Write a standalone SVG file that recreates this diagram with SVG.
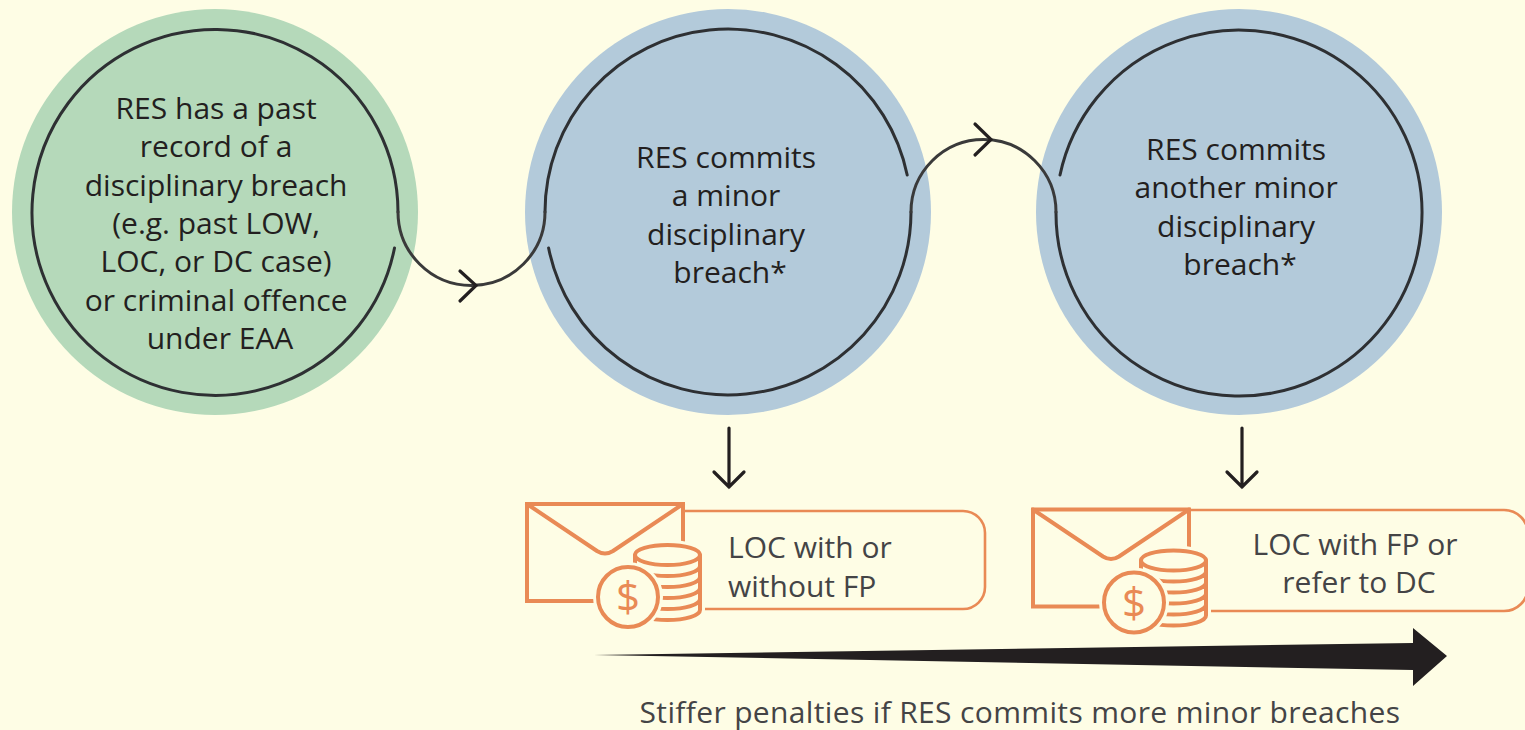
<svg xmlns="http://www.w3.org/2000/svg" xmlns:xlink="http://www.w3.org/1999/xlink" width="1525" height="730" viewBox="0 0 1525 730">
<style>
.bg{fill:#FEFDE5}
.ctext{font-family:"Open Sans","Noto Sans","DejaVu Sans",sans-serif;font-size:30px;fill:#231F20;text-anchor:middle}
.btext{font-family:"Open Sans","Noto Sans","DejaVu Sans",sans-serif;font-size:30px;fill:#444446}
.ring{fill:none;stroke:#2E3033;stroke-width:3;stroke-linecap:round}
.conn{fill:none;stroke:#3A3A3A;stroke-width:3;stroke-linecap:round}
.chev{fill:none;stroke:#231F20;stroke-width:3.2;stroke-linecap:round;stroke-linejoin:miter}
.or{fill:none;stroke:#E98A55;stroke-width:4;stroke-linejoin:round;stroke-linecap:round}
.orf{fill:#FEFDE5;stroke:#E98A55;stroke-width:4}
.halo{fill:#FEFDE5;stroke:#FEFDE5;stroke-width:10}
.box{fill:none;stroke:#E98A55;stroke-width:2.6}
.dollar{font-family:"Open Sans","Noto Sans","DejaVu Sans",sans-serif;font-size:42px;fill:#E98A55;text-anchor:middle}
</style>
<defs>
<g id="icon">
<rect x="527" y="504" width="156" height="97" class="orf"/>
<path class="or" d="M527 504 L597 551 Q605 556 613 551 L683 504"/>
<path class="halo" d="M635 555 V610 A32.5 10 0 0 0 700 610 V555 A32.5 10 0 0 0 635 555 Z"/>
<path class="or" d="M635 555 V610 M700 555 V610 M635 566 A32.5 10 0 0 0 700 566 M635 577 A32.5 10 0 0 0 700 577 M635 588 A32.5 10 0 0 0 700 588 M635 599 A32.5 10 0 0 0 700 599 M635 610 A32.5 10 0 0 0 700 610"/>
<ellipse cx="667.5" cy="555" rx="32.5" ry="10" class="orf"/>
<circle cx="628" cy="597" r="30" class="halo"/>
<circle cx="628" cy="597" r="30" class="orf"/>
<text x="628" y="612" class="dollar">$</text>
</g>
</defs>
<rect width="1525" height="730" class="bg"/>

<g id="node-past-record">
<circle cx="215" cy="212" r="203" fill="#B5D9BA"/>
<path class="ring" d="M394.5 248 A183 183 0 1 1 398 212"/>
<text class="ctext">
<tspan x="220" y="119">RES has a past</tspan>
<tspan x="220" y="157">record of a</tspan>
<tspan x="220" y="196">disciplinary breach</tspan>
<tspan x="220" y="234">(e.g. past LOW,</tspan>
<tspan x="220" y="272">LOC, or DC case)</tspan>
<tspan x="220" y="311">or criminal offence</tspan>
<tspan x="220" y="349">under EAA</tspan>
</text>
</g>

<g id="node-minor-breach">
<circle cx="728" cy="212" r="203" fill="#B3CADA"/>
<path class="ring" d="M545 212 A183 183 0 0 1 907.2 175"/>
<path class="ring" d="M548.6 248 A183 183 0 0 0 911 212"/>
<text class="ctext">
<tspan x="730" y="168">RES commits</tspan>
<tspan x="730" y="206">a minor</tspan>
<tspan x="730" y="245">disciplinary</tspan>
<tspan x="730" y="283">breach*</tspan>
</text>
</g>

<g id="node-another-breach">
<circle cx="1239" cy="212" r="203" fill="#B3CADA"/>
<path class="ring" d="M1056 212 A183 183 0 1 0 1060 175"/>
<text class="ctext">
<tspan x="1240" y="160">RES commits</tspan>
<tspan x="1240" y="198">another minor</tspan>
<tspan x="1240" y="237">disciplinary</tspan>
<tspan x="1240" y="275">breach*</tspan>
</text>
</g>

<g id="node-loc-1">
<path class="box" d="M683 511 H963 A22 22 0 0 1 985 533 V587 A22 22 0 0 1 963 609 H690"/>
<use xlink:href="#icon"/>
<text class="btext">
<tspan x="728" y="558">LOC with or</tspan>
<tspan x="728" y="597">without FP</tspan>
</text>
</g>

<g id="node-loc-2">
<path class="box" d="M1190 510 H1504 A24 24 0 0 1 1528 534 V587 A24 24 0 0 1 1504 611 H1205"/>
<use xlink:href="#icon" transform="translate(506 5.5)"/>
<text class="btext" text-anchor="middle">
<tspan x="1359" y="555">LOC with FP or</tspan>
<tspan x="1359" y="593">refer to DC</tspan>
</text>
</g>

<g id="connectors">
<path class="conn" d="M398 212 A73.5 73.5 0 0 0 545 212"/>
<path class="chev" d="M460 271 L476 285.5 L460 301"/>
<path class="conn" d="M911 212 A72.5 72.5 0 0 1 1056 212"/>
<path class="chev" d="M975 124 L991 139.5 L975 155"/>
<path class="chev" d="M729 428 V487 M714 472 L729 487 L744 472"/>
<path class="chev" d="M1242 428 V487 M1227 472 L1242 487 L1257 472"/>
</g>

<g id="penalty-arrow">
<polygon points="594,655 1413,643 1413,628 1447,656 1413,686 1413,670" fill="#231F20"/>
<text x="1020" y="723" class="ctext" style="fill:#444446;letter-spacing:0.35px">Stiffer penalties if RES commits more minor breaches</text>
</g>
</svg>
